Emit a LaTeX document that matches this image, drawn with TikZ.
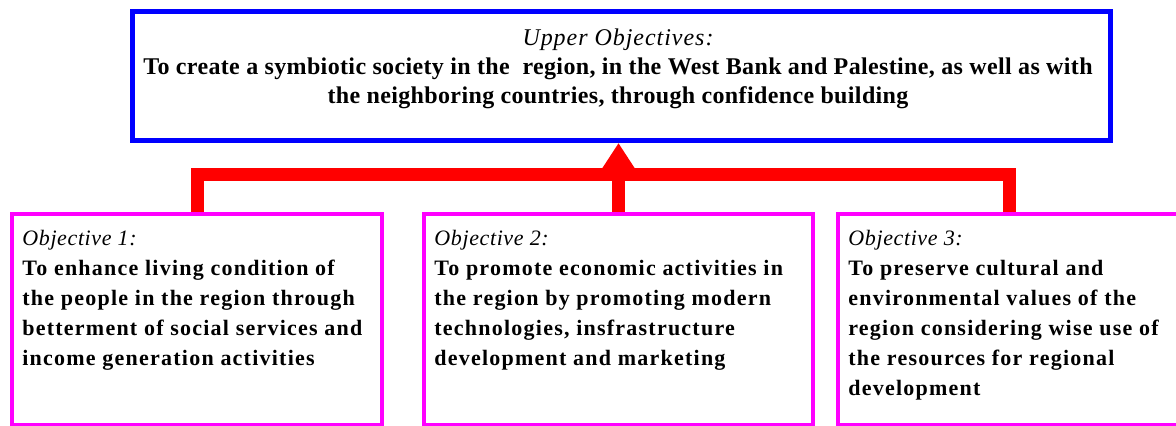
\documentclass[tikz,border=0pt]{standalone}
\usepackage{fontspec}
\setmainfont{Liberation Serif}
% tracked faces for the box texts
\newfontfamily\goalitfont[LetterSpace=4]{Liberation Serif}
\newfontfamily\goalbffont[LetterSpace=1.5]{Liberation Serif}
\newfontfamily\objitfont[LetterSpace=2.8]{Liberation Serif}
\newfontfamily\objbffont[LetterSpace=5.6]{Liberation Serif}
\newcommand{\goalhead}[1]{{\goalitfont\itshape #1}}
\newcommand{\goalline}[1]{{\goalbffont\bfseries #1}}
\newcommand{\objhead}[1]{{\objitfont\itshape #1}}
\newcommand{\objline}[1]{{\objbffont\bfseries #1}}
\usetikzlibrary{arrows.meta}
\definecolor{goalblue}{RGB}{0,0,255}
\definecolor{objmagenta}{RGB}{255,0,255}
\definecolor{linkred}{RGB}{255,0,0}
\begin{document}
\begin{tikzpicture}[x=0.5pt,y=-0.5pt,
  goalbox/.style={draw=goalblue, line width=2.5pt, inner sep=0pt,
    minimum width=489pt, minimum height=64.5pt, anchor=north west},
  objbox/.style={draw=objmagenta, line width=2pt, inner sep=0pt,
    minimum height=105.5pt, anchor=north west},
  goaltext/.style={inner sep=0pt, align=center, anchor=north,
    font=\fontsize{12}{14.5}\selectfont},
  objtext/.style={inner sep=0pt, align=left, anchor=north west,
    font=\fontsize{11}{15}\selectfont},
  link/.style={draw=linkred, line width=6.5pt, line join=miter}
]
\useasboundingbox (0,0) rectangle (1176,426);

% upper objective
\node[goalbox] (goal) at (130,9) {};
\node[goaltext] (goaltxt) at (618,28.5)
  {\goalhead{Upper Objectives:}\\
   \goalline{To create a symbiotic society in the\ \ region, in the West Bank and Palestine, as well as with}\\
   \goalline{the neighboring countries, through confidence building}};

% three objectives
\node[objbox, minimum width=185pt] (obj1) at (10,212) {};
\node[objbox, minimum width=194.5pt] (obj2) at (422,212) {};
\node[objbox, minimum width=171pt] (obj3) at (836,212) {};

\node[objtext] (txt1) at (22,230)
  {\objhead{Objective 1:}\\
   \objline{To enhance living condition of}\\
   \objline{the people in the region through}\\
   \objline{betterment of social services and}\\
   \objline{income generation activities}};
\node[objtext] (txt2) at (434,230)
  {\objhead{Objective 2:}\\
   \objline{To promote economic activities in}\\
   \objline{the region by promoting modern}\\
   \objline{technologies, insfrastructure}\\
   \objline{development and marketing}};
\node[objtext] (txt3) at (848,230)
  {\objhead{Objective 3:}\\
   \objline{To preserve cultural and}\\
   \objline{environmental values of the}\\
   \objline{region considering wise use of}\\
   \objline{the resources for regional}\\
   \objline{development}};

% red links: bus joining the objectives, arrow up to the upper objective
\coordinate (bus) at (619,175);
\draw[link] (obj1.north) -- (obj1.north |- bus) -- (obj3.north |- bus) -- (obj3.north);
\draw[link, -{Triangle[width=17pt,length=14pt]}] (obj2.north) -- (goal.south -| obj2.north);
\end{tikzpicture}
\end{document}
